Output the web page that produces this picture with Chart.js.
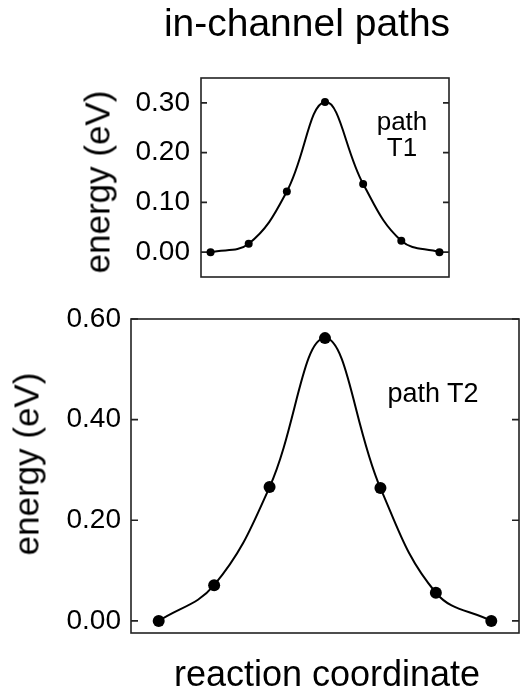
<!DOCTYPE html>
<html lang="en">
<head>
    <meta charset="UTF-8">
    <title>in-channel paths</title>
    <script src="https://cdn.jsdelivr.net/npm/chart.js"></script>
    <style>
        body {
            margin: 0;
            width: 525px;
            height: 688px;
            overflow: hidden;
            position: relative;
            background: #fff;
            color: #000;
            font-family: "Liberation Sans", Arial, sans-serif;
        }
        canvas { position: absolute; left: 0; top: 0; }
        .txt { position: absolute; white-space: nowrap; line-height: 1; }
        .center { transform: translateX(-50%); text-align: center; }
        .ylab { font-size: 35px; transform: translate(-50%, -50%) rotate(-90deg); }
    </style>
</head>
<body>
    <canvas id="chartT1" width="525" height="688"></canvas>
    <canvas id="chartT2" width="525" height="688"></canvas>

    <div class="txt center" style="left:307px; top:3px; font-size:39px;">in-channel paths</div>
    <div class="txt ylab" style="left:97px; top:182px;">energy (eV)</div>
    <div class="txt center" style="left:402px; top:108px; font-size:26px;">path<br>T1</div>
    <div class="txt ylab" style="left:26px; top:464px;">energy (eV)</div>
    <div class="txt center" style="left:433px; top:380px; font-size:27px;">path T2</div>
    <div class="txt center" style="left:327px; top:656px; font-size:36px;">reaction coordinate</div>

    <script>
        // images along the reaction path
        const images = [0, 1, 2, 3, 4, 5, 6];

        // energies (eV)
        const energyT1 = [0.000, 0.017, 0.122, 0.302, 0.137, 0.023, 0.000];
        const energyT2 = [0.000, 0.071, 0.266, 0.562, 0.264, 0.056, 0.000];

        // y tick labels
        const ticksT1 = [0.00, 0.10, 0.20, 0.30];
        const ticksT2 = [0.00, 0.20, 0.40, 0.60];

        // box around the plot with small inward ticks on both sides
        const framePlugin = {
            id: 'frame',
            beforeDatasetsDraw(chart, args, opts) {
                const ctx = chart.ctx;
                const a = chart.chartArea;
                const y = chart.scales.y;
                ctx.save();
                ctx.strokeStyle = '#222';
                ctx.lineWidth = 1.6;
                ctx.strokeRect(a.left, a.top, a.right - a.left, a.bottom - a.top);
                ctx.beginPath();
                y.ticks.forEach(t => {
                    const py = y.getPixelForValue(t.value);
                    ctx.moveTo(a.left, py);
                    ctx.lineTo(a.left + opts.tick, py);
                    ctx.moveTo(a.right, py);
                    ctx.lineTo(a.right - opts.tick, py);
                });
                ctx.stroke();
                ctx.restore();
            }
        };

        function makeChart(id, energies, yTicks, o) {
            return new Chart(document.getElementById(id), {
                type: 'line',
                data: {
                    datasets: [{
                        data: images.map((x, i) => ({ x: x, y: energies[i] })),
                        borderColor: '#000',
                        borderWidth: 2,
                        tension: 0.4,
                        pointRadius: o.radius,
                        pointBackgroundColor: '#000',
                        pointBorderWidth: 0
                    }]
                },
                options: {
                    responsive: false,
                    animation: false,
                    layout: { padding: o.padding },
                    plugins: {
                        legend: { display: false },
                        tooltip: { enabled: false },
                        frame: { tick: o.tick }
                    },
                    scales: {
                        x: {
                            type: 'linear',
                            min: o.xMin,
                            max: o.xMax,
                            display: false
                        },
                        y: {
                            min: o.yMin,
                            max: o.yMax,
                            grid: { display: false, drawTicks: false },
                            border: { display: false },
                            afterBuildTicks: s => { s.ticks = yTicks.map(v => ({ value: v })); },
                            afterFit: s => { s.width = o.axisWidth; },
                            ticks: {
                                padding: o.labelPad,
                                color: '#000',
                                font: { family: '"Liberation Sans", Arial, sans-serif', size: 28 },
                                callback: v => v.toFixed(2)
                            }
                        }
                    }
                },
                plugins: [framePlugin]
            });
        }

        makeChart('chartT1', energyT1, ticksT1, {
            xMin: -0.25, xMax: 6.25, yMin: -0.05, yMax: 0.35,
            padding: { left: 0, top: 78, right: 76, bottom: 411 },
            axisWidth: 201, labelPad: 11, radius: 4, tick: 6
        });

        makeChart('chartT2', energyT2, ticksT2, {
            xMin: -0.5, xMax: 6.5, yMin: -0.024, yMax: 0.6,
            padding: { left: 0, top: 319, right: 2, bottom: 55 },
            axisWidth: 131, labelPad: 10, radius: 6, tick: 7
        });
    </script>
</body>
</html>
